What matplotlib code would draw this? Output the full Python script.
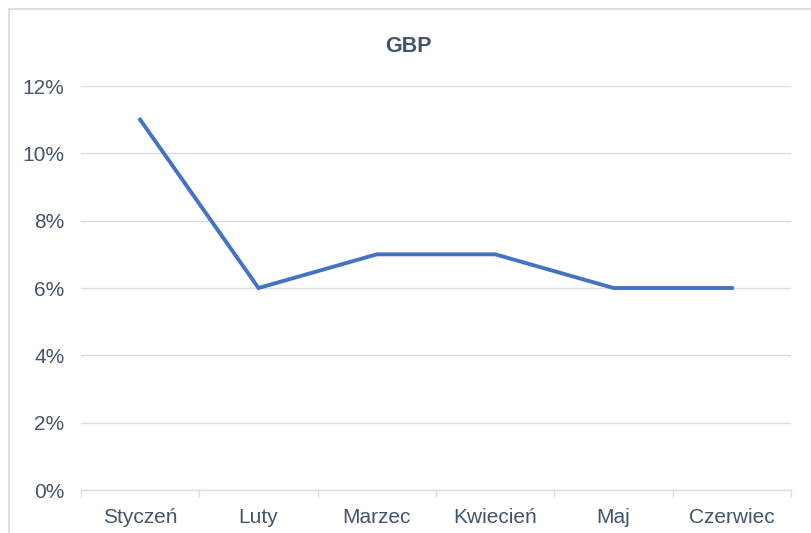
import matplotlib
matplotlib.use("Agg")
import matplotlib.pyplot as plt
from matplotlib.lines import Line2D
from matplotlib.ticker import FuncFormatter

# dane
miesiace = ["Styczeń", "Luty", "Marzec", "Kwiecień", "Maj", "Czerwiec"]
gbp = [0.11, 0.06, 0.07, 0.07, 0.06, 0.06]

plt.rcParams['font.family'] = ['Liberation Sans', 'DejaVu Sans']
txt = '#44546A'
siatka = '#D9DDE3'

fig = plt.figure(figsize=(8.11, 5.33), dpi=100)
ax = fig.add_axes([81/811, 43/533, 710/811, 404/533])

x = list(range(len(miesiace)))
ax.plot(x, gbp, color='#4472C4', linewidth=2.8, solid_joinstyle='miter')

ax.set_xlim(-0.5, len(miesiace) - 0.5)
ax.set_ylim(0, 0.12)
ax.set_yticks([0, 0.02, 0.04, 0.06, 0.08, 0.10, 0.12])
ax.yaxis.set_major_formatter(FuncFormatter(lambda v, p: f"{v*100:.0f}%"))
ax.set_xticks(x)
ax.set_xticklabels(miesiace)
ax.set_xticks([i - 0.5 for i in range(len(miesiace) + 1)], minor=True)

ax.grid(axis='y', color=siatka, linewidth=1)
ax.set_axisbelow(True)
for s in ['top', 'right', 'left']:
    ax.spines[s].set_visible(False)
ax.spines['bottom'].set_color(siatka)
ax.spines['bottom'].set_linewidth(1)

ax.tick_params(axis='y', length=0, pad=12, labelsize=15, labelcolor=txt)
ax.tick_params(axis='x', which='major', length=0, pad=13, labelsize=15, labelcolor=txt)
ax.tick_params(axis='x', which='minor', length=5, width=1, color=siatka)

fig.text(0.5 + 3/811, 1 - 46/533, "GBP", ha='center', va='center', fontsize=15.5,
         fontweight='bold', color=txt)

# ramka wykresu
fig.add_artist(Line2D([9/811, 9/811], [0, 1 - 9/533], color='#D9D9D9', linewidth=1.2, transform=fig.transFigure))
fig.add_artist(Line2D([9/811, 1], [1 - 9/533, 1 - 9/533], color='#D9D9D9', linewidth=1.2, transform=fig.transFigure))

fig.savefig("out.png", dpi=100)
